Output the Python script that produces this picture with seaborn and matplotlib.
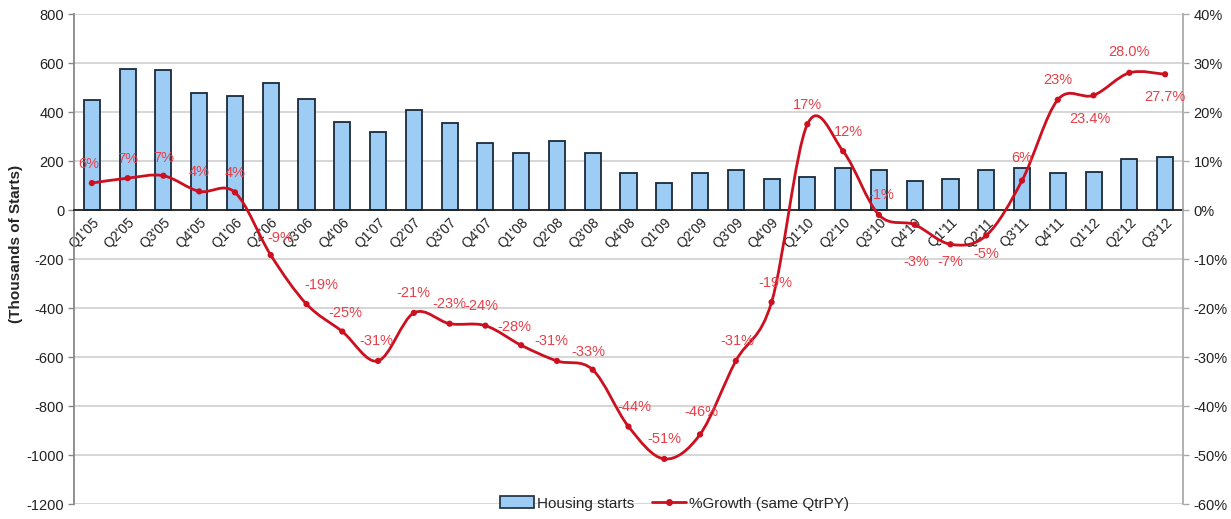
import numpy as np
import pandas as pd
import matplotlib
matplotlib.use("Agg")
import matplotlib.pyplot as plt
from matplotlib.path import Path
from matplotlib.patches import PathPatch, Patch
from matplotlib.lines import Line2D
import seaborn as sns

# ── Data ────────────────────────────────────────────────
quarters = ["Q1'05", "Q2'05", "Q3'05", "Q4'05", "Q1'06", "Q2'06", "Q3'06", "Q4'06",
            "Q1'07", "Q2'07", "Q3'07", "Q4'07", "Q1'08", "Q2'08", "Q3'08", "Q4'08",
            "Q1'09", "Q2'09", "Q3'09", "Q4'09", "Q1'10", "Q2'10", "Q3'10", "Q4'10",
            "Q1'11", "Q2'11", "Q3'11", "Q4'11", "Q1'12", "Q2'12", "Q3'12"]
housing_starts = [450, 575, 570, 478, 466, 520, 455, 360, 320, 410, 355, 272, 232, 282,
                  232, 150, 112, 150, 162, 125, 135, 172, 165, 120, 125, 165, 170, 150,
                  155, 210, 215]
growth_pct = [5.5, 6.5, 7.0, 3.8, 3.6, -9.2, -19.2, -24.8, -30.8, -21.0, -23.2, -23.6,
              -27.6, -30.8, -32.6, -44.2, -50.8, -45.8, -30.8, -18.8, 17.5, 12.0,
              -1.0, -3.0, -7.0, -5.2, 6.0, 22.5, 23.4, 28.0, 27.7]
growth_labels = ["6%", "7%", "7%", "4%", "4%", "-9%", "-19%", "-25%", "-31%", "-21%",
                 "-23%", "-24%", "-28%", "-31%", "-33%", "-44%", "-51%", "-46%", "-31%",
                 "-19%", "17%", "12%", "-1%", "-3%", "-7%", "-5%", "6%", "23%", "23.4%",
                 "28.0%", "27.7%"]
# label placement relative to the point (points)
label_offsets = [(-2, 14), (0, 14), (0, 13), (0, 14), (0, 14), (7, 12), (11, 14), (2, 13),
                 (-1, 14), (0, 14), (0, 14), (-3, 14), (-5, 13), (-4, 14), (-3, 13),
                 (4, 14), (0, 14), (1, 16), (1, 14), (3, 14), (0, 14), (4, 14), (2, 14),
                 (1, -27), (0, -13), (0, -13), (0, 16), (0, 14), (-3, -17), (0, 15),
                 (0, -16)]
# ────────────────────────────────────────────────────────

BAR_COLOR  = "#9dccf5"
LINE_COLOR = "#cc1020"
TEXT_RED   = "#e8404a"
FONT = ["Liberation Sans Narrow", "Liberation Sans", "DejaVu Sans"]

sns.set_style("white")
plt.rcParams["font.family"] = FONT
plt.rcParams["axes.unicode_minus"] = False

df = pd.DataFrame({"quarter": quarters, "starts": housing_starts,
                   "growth": growth_pct, "idx": np.arange(len(quarters))})

fig = plt.figure(figsize=(12.31, 5.19), dpi=100)
ax = fig.add_axes([0.0601, 0.0289, 0.9009, 0.9441])

sns.barplot(data=df, x="quarter", y="starts", color=BAR_COLOR, width=0.45,
            edgecolor="#1a2a3a", linewidth=1.3, saturation=1, ax=ax, zorder=2)
ax.set_xlim(-0.5, len(quarters) - 0.5)
ax.set_ylim(-1200, 800)
ax.set_yticks(np.arange(-1200, 801, 200))
ax.yaxis.grid(True, color="#cfcfcf", linewidth=1.2, zorder=0)
ax.set_axisbelow(True)
ax.set_xlabel("")
ax.set_ylabel("(Thousands of Starts)", fontsize=11, fontweight="bold",
              family=["Liberation Sans", "DejaVu Sans"], va="center")
ax.yaxis.set_label_coords(-0.052, 0.53)

# category axis crosses at zero
ax.spines["bottom"].set_position(("data", 0))
ax.spines["bottom"].set_color("#222222")
ax.spines["bottom"].set_linewidth(1.3)
ax.spines["top"].set_visible(False)
ax.spines["right"].set_visible(False)
ax.spines["left"].set_color("#888888")
ax.spines["left"].set_linewidth(1.3)
ax.set_xticks(np.arange(len(quarters)))
ax.set_xticklabels(quarters, rotation=45, ha="right", rotation_mode="anchor",
                   fontsize=10, color="#222222")
ax.tick_params(axis="x", which="major", length=0, pad=4)
ax.set_xticks(np.arange(-0.5, len(quarters), 1), minor=True)
ax.tick_params(axis="x", which="minor", length=5, width=1.2, color="#333333",
               direction="out")
ax.tick_params(axis="y", length=4, width=1, color="#888888", labelsize=10.5,
               labelcolor="#222222", direction="out", pad=3)

# growth line on right axis
ax2 = ax.twinx()
ax2.set_ylim(-60, 40)
ax2.set_yticks(np.arange(-60, 41, 10))
ax2.set_yticklabels([f"{v}%" for v in range(-60, 41, 10)])
ax2.tick_params(axis="y", length=4, width=1, color="#aaaaaa", labelsize=10.5,
                labelcolor="#222222", direction="out")
for s in ["top", "left", "bottom"]:
    ax2.spines[s].set_visible(False)
ax2.spines["right"].set_color("#aaaaaa")
ax2.spines["right"].set_linewidth(1.3)

# smoothed curve (Catmull-Rom as cubic Bezier segments, like Excel smoothing)
pts = np.column_stack([df["idx"].to_numpy(float), df["growth"].to_numpy(float)])
ext = np.vstack([pts[0], pts, pts[-1]])
verts = [tuple(pts[0])]
codes = [Path.MOVETO]
for i in range(len(pts) - 1):
    p0, p1, p2, p3 = ext[i], ext[i + 1], ext[i + 2], ext[i + 3]
    c1 = p1 + (p2 - p0) / 6.0
    c2 = p2 - (p3 - p1) / 6.0
    verts += [tuple(c1), tuple(c2), tuple(p2)]
    codes += [Path.CURVE4] * 3
ax2.add_patch(PathPatch(Path(verts, codes), facecolor="none", edgecolor=LINE_COLOR,
                        linewidth=2.0, zorder=3))
sns.scatterplot(data=df, x="idx", y="growth", color=LINE_COLOR, s=20, edgecolor="none",
                ax=ax2, zorder=4, legend=False)
ax2.set_xlim(-0.5, len(quarters) - 0.5)
ax2.set_xlabel("")
ax2.set_ylabel("")

for i, (v, lab) in enumerate(zip(growth_pct, growth_labels)):
    dx, dy = label_offsets[i]
    ax2.annotate(lab, (i, v), xytext=(dx, dy), textcoords="offset points",
                 ha="center", va="center", fontsize=10.5, color=TEXT_RED, zorder=5)

handles = [Patch(facecolor=BAR_COLOR, edgecolor="#1a2a3a", linewidth=1.2),
           Line2D([0], [0], color=LINE_COLOR, lw=2, marker="o", markersize=4)]
fig.legend(handles, ["Housing starts", "%Growth (same QtrPY)"], loc="center",
           bbox_to_anchor=(0.548, 0.03), ncol=2, frameon=False, fontsize=11,
           handlelength=2.2, handleheight=0.8, columnspacing=1.2, handletextpad=0.2)

fig.savefig("out.png", dpi=100)
